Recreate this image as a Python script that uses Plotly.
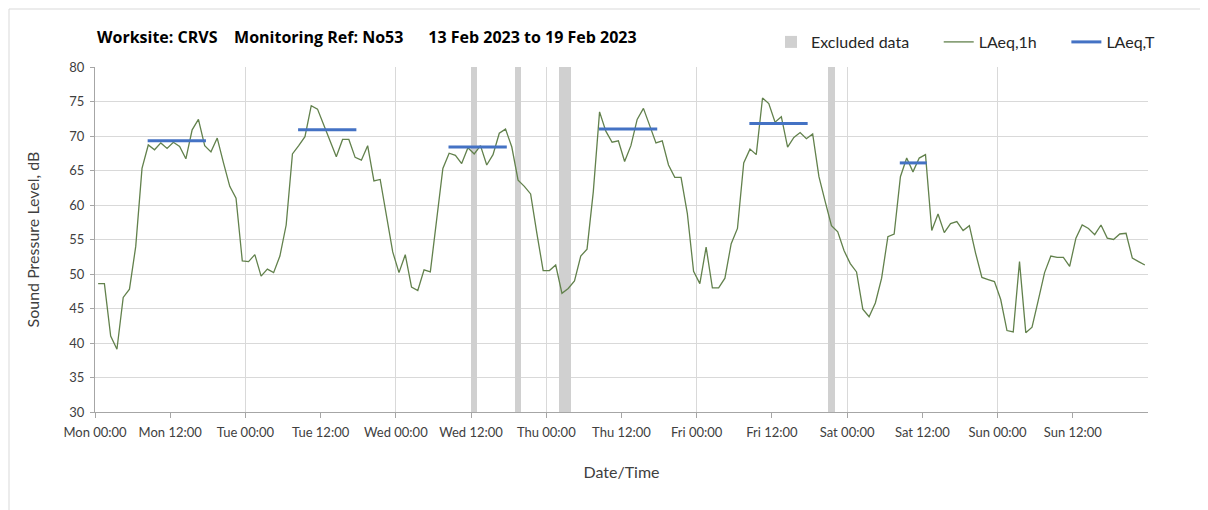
import plotly.graph_objects as go

# ---- data ----
# hourly LAeq,1h values, Mon 00:00 .. Sun 23:00 (168 hours)
laeq_1h = [
    # Mon
    48.6, 48.6, 41.0, 39.1, 46.6, 47.8, 54.0, 65.3, 68.7, 68.0, 69.0, 68.2,
    69.1, 68.5, 66.7, 70.9, 72.4, 68.6, 67.7, 69.7, 66.1, 62.7, 61.0, 51.9,
    # Tue
    51.8, 52.8, 49.7, 50.7, 50.2, 52.6, 57.1, 67.4, 68.6, 69.9, 74.4, 73.9,
    71.6, 69.2, 67.0, 69.5, 69.5, 66.9, 66.5, 68.6, 63.5, 63.7, 58.6, 53.2,
    # Wed
    50.2, 52.8, 48.1, 47.6, 50.6, 50.3, 57.8, 65.3, 67.5, 67.2, 66.0, 68.3,
    67.4, 68.6, 65.8, 67.3, 70.4, 71.0, 68.4, 63.6, 62.7, 61.6, 55.9, 50.5,
    # Thu
    50.5, 51.3, 47.2, 47.9, 49.0, 52.6, 53.6, 61.9, 73.5, 70.7, 69.1, 69.3,
    66.3, 68.6, 72.4, 74.0, 71.5, 69.0, 69.3, 65.8, 64.0, 64.0, 58.8, 50.4,
    # Fri
    48.6, 53.9, 48.0, 48.0, 49.4, 54.4, 56.6, 66.1, 68.1, 67.3, 75.5, 74.7,
    72.0, 72.8, 68.4, 69.8, 70.5, 69.6, 70.3, 64.1, 60.5, 57.0, 56.1, 53.4,
    # Sat
    51.5, 50.3, 44.9, 43.8, 45.8, 49.4, 55.4, 55.8, 64.1, 66.8, 64.8, 66.8,
    67.3, 56.3, 58.7, 56.0, 57.3, 57.6, 56.3, 57.0, 53.0, 49.5, 49.2, 48.9,
    # Sun
    46.3, 41.8, 41.6, 51.8, 41.5, 42.3, 46.2, 50.2, 52.6, 52.4, 52.4, 51.1,
    55.2, 57.1, 56.6, 55.7, 57.1, 55.2, 55.0, 55.8, 55.9, 52.3, 51.8, 51.3,
]

# LAeq,T over daytime periods (start hour, end hour from Mon 00:00, level)
laeq_t_start = [8, 32, 56, 80, 104, 128]
laeq_t_end = [18, 42, 66, 90, 114, 133]
laeq_t_level = [69.3, 70.9, 68.4, 71.0, 71.8, 66.1]

# excluded hours (hour index from Mon 00:00)
excluded_hours = [60, 67, 74, 75, 117]

tick_hours = list(range(0, 168, 12))
tick_labels = ["Mon 00:00", "Mon 12:00", "Tue 00:00", "Tue 12:00", "Wed 00:00",
               "Wed 12:00", "Thu 00:00", "Thu 12:00", "Fri 00:00", "Fri 12:00",
               "Sat 00:00", "Sat 12:00", "Sun 00:00", "Sun 12:00"]

FONT = "Lato"
GREEN = "#62814c"
BLUE = "#4472c4"
GREY_BAR = "#d0d0d0"
NB = "\u00a0"

hours_x = [h + 0.5 for h in range(len(laeq_1h))]

fig = go.Figure()

fig.add_trace(go.Bar(
    x=[h + 0.5 for h in excluded_hours], y=[80] * len(excluded_hours), width=1,
    marker=dict(color=GREY_BAR, line=dict(width=0)),
    name="Excluded data" + NB * 6, hoverinfo="skip",
))

fig.add_trace(go.Scatter(
    x=hours_x, y=laeq_1h, mode="lines", name="LAeq,1h" + NB * 6,
    line=dict(color=GREEN, width=1.3),
))

for k, (s, e, v) in enumerate(zip(laeq_t_start, laeq_t_end, laeq_t_level)):
    fig.add_trace(go.Scatter(
        x=[s + 0.4, e - 0.3], y=[v, v], mode="lines", name="LAeq,T",
        line=dict(color=BLUE, width=3), showlegend=(k == 0), legendgroup="t",
    ))

# dummy trace for the day gridlines axis
fig.add_trace(go.Scatter(x=[0, 168], y=[None, None], xaxis="x2", showlegend=False,
                         hoverinfo="skip", mode="lines"))

fig.update_layout(
    width=1200, height=502,
    margin=dict(l=87, r=60, t=59, b=98),
    paper_bgcolor="white", plot_bgcolor="white",
    font=dict(family=FONT, color="#404040", size=13),
    bargap=0,
    xaxis=dict(
        range=[0, 168], tickmode="array", tickvals=tick_hours, ticktext=tick_labels,
        showgrid=False, zeroline=False, showline=True, linecolor="#a6a6a6", linewidth=1,
        ticks="outside", ticklen=5, tickcolor="#a6a6a6", ticklabelstandoff=3,
        tickfont=dict(size=13, color="#404040"),
        title=dict(text="Date/Time", font=dict(size=16, color="#404040"), standoff=28),
    ),
    xaxis2=dict(
        range=[0, 168], overlaying="x", anchor="y", side="bottom",
        tickmode="linear", tick0=0, dtick=24, showticklabels=False,
        showgrid=True, gridcolor="#d9d9d9", gridwidth=1, zeroline=False, showline=False,
    ),
    yaxis=dict(
        range=[30, 80], tickmode="linear", tick0=30, dtick=5,
        showgrid=True, gridcolor="#d9d9d9", gridwidth=1, zeroline=False,
        showline=True, linecolor="#a6a6a6", linewidth=1,
        ticks="outside", ticklen=4, tickcolor="#a6a6a6", ticklabelstandoff=3,
        tickfont=dict(size=13, color="#404040"),
        title=dict(text="Sound Pressure Level, dB", font=dict(size=16, color="#404040"), standoff=25),
    ),
    legend=dict(
        orientation="h", x=(771 - 95) / 1053, y=(412 - 42) / 345, xanchor="left", yanchor="middle",
        font=dict(size=16, color="#262626"), bgcolor="rgba(0,0,0,0)",
        traceorder="normal", itemwidth=30,
    ),
    showlegend=True,
)

fig.add_annotation(
    xref="paper", yref="paper", x=0, y=(412 - 37) / 345, xanchor="left", yanchor="middle",
    text="<b>Worksite: CRVS&nbsp;&nbsp;&nbsp;&nbsp;Monitoring Ref: No53&nbsp;&nbsp;&nbsp;&nbsp;&nbsp;&nbsp;13 Feb 2023 to 19 Feb 2023</b>",
    showarrow=False, font=dict(size=16, color="#000000", family="Open Sans"),
)

# outer chart border
fig.add_shape(type="rect", xref="paper", yref="paper",
              x0=(9 - 95) / 1053, x1=1.06, y0=-0.3, y1=(412 - 9) / 345,
              line=dict(color="#d9d9d9", width=1), fillcolor="rgba(0,0,0,0)", layer="below")

fig.write_html("out.html")
